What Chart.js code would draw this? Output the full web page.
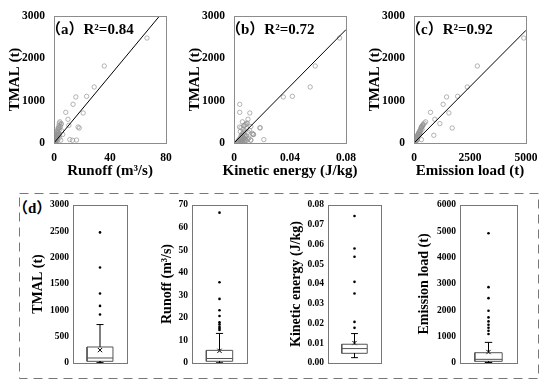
<!DOCTYPE html>
<html>
<head>
<meta charset="utf-8">
<script src="https://cdn.jsdelivr.net/npm/chart.js@4.4.1/dist/chart.umd.min.js"></script>
<style>
  body { margin: 0; background: #fff; }
  #wrap { position: relative; width: 550px; height: 391px; overflow: hidden; }
  #wrap canvas { position: absolute; }
  .tag { position: absolute; font: bold 15px "Liberation Serif", "Noto Sans CJK SC", serif; color: #000; white-space: nowrap; }
</style>
</head>
<body>
<div id="wrap">
  <svg width="550" height="391" style="position:absolute;left:0;top:0">
    <rect x="19.5" y="193.5" width="519" height="185" fill="none" stroke="#777" stroke-width="1" stroke-dasharray="9 6"/>
  </svg>
  <div class="tag" style="left:13px;top:196px">（d）</div>
</div>
<script>
// one row per sample event: TMAL and its three drivers
const tmal = [2480, 1819, 1323, 1103, 1087, 914, 725, 709, 560, 458, 418, 378, 354, 205, 182, 80, 70, 64,
  500, 470, 440, 410, 390, 360, 340, 320, 300, 290, 270, 255, 240, 230, 215, 205, 200, 190, 180, 170,
  160, 150, 140, 130, 120, 115, 108, 100, 95, 90, 85, 78, 72, 66, 60, 55, 50, 45, 40, 36, 32, 28, 24,
  20, 16, 12, 9, 6, 4, 2, 364];
const runoff = [66.4, 35.9, 28.7, 23.3, 15.6, 13.6, 8.4, 20.8, 10.0, 5.2, 10.6, 17.2, 18.0, 3.2, 4.0, 11.3, 16.1, 13.2,
  4.2, 3.8, 5.0, 3.5, 4.6, 3.2, 2.9, 4.0, 2.6, 5.4, 2.2, 3.0, 1.9, 2.5, 3.3, 1.7, 6.2, 2.0, 1.5, 2.8,
  1.3, 2.4, 1.1, 1.8, 0.9, 3.6, 1.4, 0.8, 2.1, 1.2, 0.7, 1.6, 0.6, 4.8, 1.0, 0.5, 2.3, 0.9, 0.4, 1.5, 0.6, 0.3, 1.1,
  0.5, 0.2, 0.8, 0.3, 0.15, 0.5, 0.1, 3.9];
const kinetic = [0.0754, 0.058, 0.0544, 0.0417, 0.0352, 0.0041, 0.0041, 0.0113, 0.0100, 0.0089, 0.0077, 0.0040, 0.0185, 0.0136, 0.0060, 0.0213, 0.0120, 0.0080,
  0.0060, 0.0095, 0.0082, 0.0070, 0.0120, 0.0050, 0.0090, 0.0065, 0.0110, 0.0078, 0.0045, 0.0100, 0.0068, 0.0130, 0.0058, 0.0136, 0.0140, 0.0075, 0.0052, 0.0090,
  0.0062, 0.0085, 0.0048, 0.0072, 0.0056, 0.0105, 0.0066, 0.0040, 0.0080, 0.0098, 0.0050, 0.0070, 0.0035, 0.0120, 0.0060, 0.0030, 0.0088, 0.0045, 0.0028, 0.0076, 0.0052, 0.0033, 0.0064,
  0.0042, 0.0027, 0.0058, 0.0036, 0.0025, 0.0048, 0.0030, 0.0187];
const emission = [4900, 2828, 2379, 1948, 1454, 1302, 736, 1557, 929, 1153, 400, 330, 1706, 250, 884, 332, 150, 120,
  520, 460, 410, 380, 350, 330, 300, 360, 280, 260, 240, 290, 220, 200, 250, 190, 180, 230, 170, 160,
  150, 140, 135, 125, 118, 160, 105, 100, 95, 88, 80, 75, 70, 65, 60, 52, 48, 45, 40, 36, 30, 26, 22,
  18, 15, 12, 9, 6, 4, 2, 340];

// fitted lines through the origin (TMAL per unit of x) and their R²
const fitSlope = [39.8, 33490, 0.5324];
const fitR2 = ['0.84', '0.72', '0.92'];
const panelTags = ['a', 'b', 'c'];
const xTitles = ['Runoff (m³/s)', 'Kinetic energy (J/kg)', 'Emission load (t)'];
const xMaxes = [80, 0.08, 5000];
const xSteps = [40, 0.04, 2500];

// box plot statistics, panel (d)
const boxTitles = ['TMAL (t)', 'Runoff (m³/s)', 'Kinetic energy (J/kg)', 'Emission load (t)'];
const boxMin = [7, 0.1, 0.0027, 20];
const boxQ1 = [32, 0.76, 0.0049, 63];
const boxMedian = [95, 2.0, 0.0073, 139];
const boxQ3 = [304, 5.6, 0.0095, 391];
const boxMax = [730, 13.1, 0.0149, 783];
const boxMean = [245, 5.4, 0.0101, 417];
const boxOutliers = [
  [920, 1084, 1320, 1814, 2480],
  [14.6, 15.3, 16.0, 17.1, 18.0, 20.8, 23.4, 28.4, 35.8, 66.6],
  [0.0178, 0.0208, 0.0352, 0.0411, 0.0538, 0.058, 0.0744],
  [1099, 1225, 1339, 1453, 1579, 1731, 1983, 2463, 2880, 4926]
];
const boxYMax = [3000, 70, 0.08, 6000];
const boxYStep = [500, 10, 0.01, 1000];

Chart.defaults.font.family = '"Liberation Serif", "Times New Roman", serif';
Chart.defaults.font.weight = 'bold';
Chart.defaults.color = '#000';
Chart.defaults.plugins.legend.display = false;
Chart.defaults.plugins.tooltip.enabled = false;
Chart.defaults.animation = false;

const frame = {
  id: 'frame',
  afterDatasetsDraw(chart, args, opts) {
    const a = chart.chartArea, ctx = chart.ctx;
    ctx.save();
    ctx.strokeStyle = opts.color || '#888';
    ctx.lineWidth = 1;
    ctx.strokeRect(Math.round(a.left) + 0.5, Math.round(a.top) + 0.5,
      Math.round(a.right - a.left), Math.round(a.bottom - a.top));
    ctx.restore();
  }
};
// panel letter + R² inside the plot, and the x title under it (not squeezed to the axis width)
const tag = {
  id: 'tag',
  afterDraw(chart, args, opts) {
    if (!opts.text) return;
    const a = chart.chartArea, ctx = chart.ctx;
    ctx.save();
    ctx.font = 'bold 15px "Liberation Serif", "Noto Sans CJK SC", serif';
    ctx.fillStyle = '#000';
    ctx.textBaseline = 'middle';
    ctx.fillText(opts.text, a.left + opts.dx, a.top + opts.dy);
    if (opts.xTitle) {
      ctx.textAlign = 'center';
      ctx.fillText(opts.xTitle, (a.left + a.right) / 2, a.bottom + opts.xTitleDy);
    }
    ctx.restore();
  }
};
Chart.register(frame, tag);

const wrap = document.getElementById('wrap');
function addCanvas(left, top, w, h) {
  const c = document.createElement('canvas');
  c.width = w; c.height = h;
  c.style.left = left + 'px'; c.style.top = top + 'px';
  c.style.width = w + 'px'; c.style.height = h + 'px';
  wrap.appendChild(c);
  return c;
}
const fmt = v => String(+v.toFixed(4));

// (a)-(c) scatter panels
[0, 180, 360].forEach((left, i) => {
  const xs = [runoff, kinetic, emission][i];
  const pts = tmal.map((y, j) => ({ x: xs[j], y: y }));
  new Chart(addCanvas(left, 0, 190, 185), {
    type: 'scatter',
    data: {
      datasets: [
        { data: pts, pointStyle: 'circle', pointRadius: 2.2, pointBorderWidth: 0.7,
          pointBorderColor: '#939393', pointBackgroundColor: 'rgba(0,0,0,0)', order: 2 },
        { type: 'line', data: [{ x: 0, y: 0 }, { x: xMaxes[i], y: fitSlope[i] * xMaxes[i] }],
          borderColor: '#000', borderWidth: 1, pointRadius: 0, order: 1 }
      ]
    },
    options: {
      responsive: false,
      devicePixelRatio: 1,
      layout: { padding: { top: 16, right: 24, left: 0, bottom: 0 } },
      scales: {
        x: {
          type: 'linear', min: 0, max: xMaxes[i],
          grid: { display: false, drawTicks: false }, border: { display: false },
          ticks: { stepSize: xSteps[i], padding: 8, font: { size: 11.5 }, callback: fmt },
          afterFit: s => { s.height = 42; }
        },
        y: {
          min: 0, max: 3000,
          grid: { display: false, drawTicks: false }, border: { display: false },
          ticks: { stepSize: 1000, padding: 9, font: { size: 11.5 }, callback: fmt },
          title: { display: true, text: 'TMAL (t)', font: { size: 15 }, padding: { top: 6, bottom: 0 } },
          afterFit: s => { s.width = 54; }
        }
      },
      plugins: {
        frame: { color: '#8c8c8c' },
        tag: { text: '（' + panelTags[i] + '）R²=' + fitR2[i], dx: -8, dy: 14,
          xTitle: xTitles[i], xTitleDy: 28 }
      }
    }
  });
});

// (d) box plots
const boxTitleX = [38, 167, 296, 424];
const boxPlotL = [73, 192, 328, 460];
const boxPlotR = [127, 247, 381, 517];
boxTitles.forEach((title, k) => {
  const cLeft = boxTitleX[k] - 16;
  const seg = (pts, color) => ({ type: 'line', data: pts, borderColor: color, borderWidth: 1,
    pointRadius: 0, fill: false, showLine: true });
  const L = 0.26, R = 0.74, C = 0.5, cl = 0.435, cr = 0.565;
  new Chart(addCanvas(cLeft, 195, boxPlotR[k] - cLeft + 5, 178), {
    type: 'scatter',
    data: {
      datasets: [
        seg([{ x: C, y: boxQ3[k] }, { x: C, y: boxMax[k] }], '#000'),
        seg([{ x: cl, y: boxMax[k] }, { x: cr, y: boxMax[k] }], '#000'),
        seg([{ x: C, y: boxQ1[k] }, { x: C, y: boxMin[k] }], '#000'),
        seg([{ x: cl, y: boxMin[k] }, { x: cr, y: boxMin[k] }], '#000'),
        seg([{ x: L, y: boxQ1[k] }, { x: R, y: boxQ1[k] }, { x: R, y: boxQ3[k] },
             { x: L, y: boxQ3[k] }, { x: L, y: boxQ1[k] }], '#555'),
        seg([{ x: L, y: boxMedian[k] }, { x: R, y: boxMedian[k] }], '#555'),
        { data: boxOutliers[k].map(v => ({ x: C, y: v })), pointRadius: 1.3,
          pointBackgroundColor: '#000', pointBorderColor: '#000', pointBorderWidth: 0 },
        { data: [{ x: C, y: boxMean[k] }], pointStyle: 'crossRot', pointRadius: 3,
          pointBorderColor: '#000', pointBorderWidth: 1 }
      ]
    },
    options: {
      responsive: false,
      devicePixelRatio: 1,
      layout: { padding: { top: 10, right: 5, left: 0, bottom: 10 } },
      scales: {
        x: { type: 'linear', min: 0, max: 1, display: false },
        y: {
          min: 0, max: boxYMax[k],
          grid: { display: false, drawTicks: false }, border: { display: false },
          ticks: { stepSize: boxYStep[k], padding: 4, autoSkip: false, font: { size: 9.5 },
            callback: v => k === 2 ? v.toFixed(2) : fmt(v) },
          title: { display: true, text: title, font: { size: 14 }, padding: { top: 7.6, bottom: 0 } },
          afterFit: s => { s.width = boxPlotL[k] - cLeft; }
        }
      },
      plugins: { frame: { color: '#777' } }
    }
  });
});
</script>
</body>
</html>
